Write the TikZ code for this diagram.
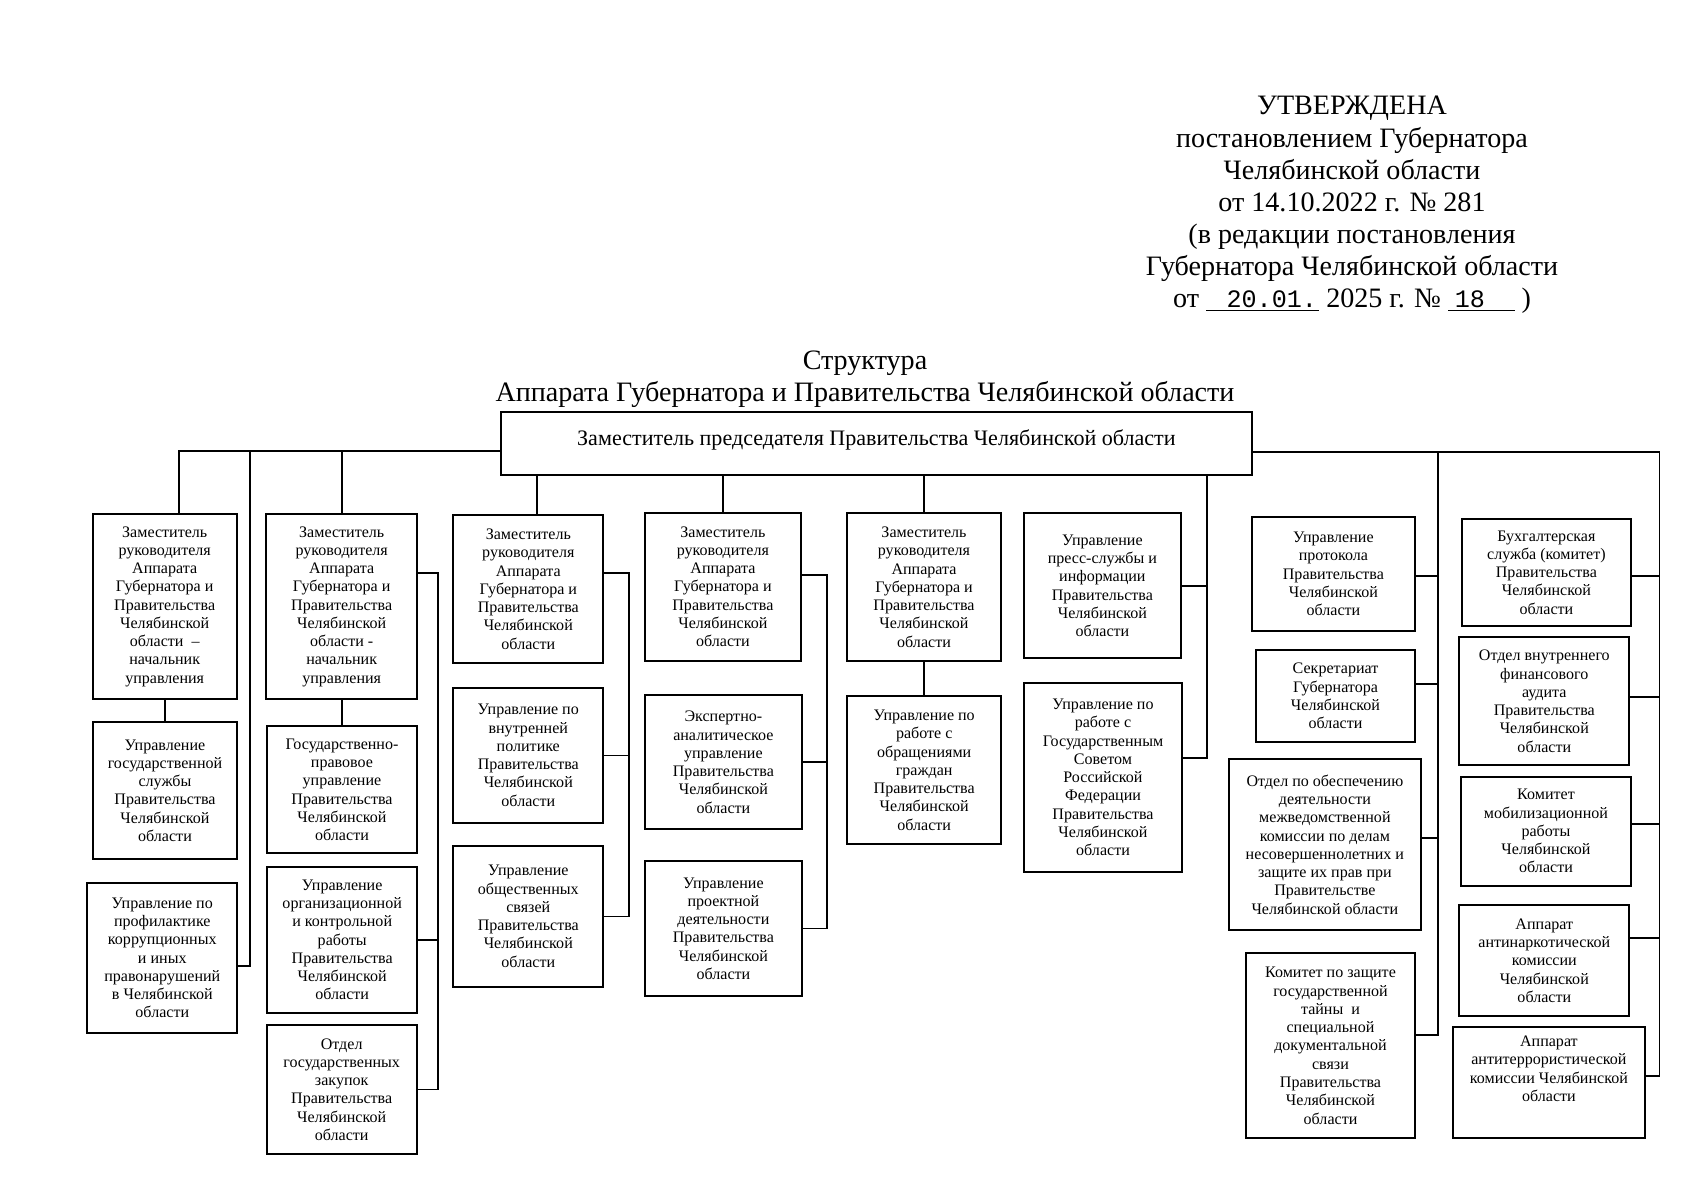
\documentclass[tikz,border=0pt]{standalone}
\usepackage{fontspec}
\setmainfont{Liberation Serif}
\newfontfamily\monofont{Liberation Mono}
\usetikzlibrary{positioning}
\newcommand\pxu{0.17512mm}

\begin{document}
\begin{tikzpicture}[x=\pxu,y=-\pxu,line width=0.9pt,
    unit/.style={draw,inner sep=1pt,align=center,font=\fontsize{8}{9.1}\selectfont},
    sz/.style 2 args={minimum width=#1*\pxu,minimum height=#2*\pxu},
    big/.style={align=center,font=\fontsize{14}{16}\selectfont}]

    \useasboundingbox (0,0) rectangle (1696,1200);

    % header
    \node[big] (appr) at (1352,205) {УТВЕРЖДЕНА\\постановлением Губернатора\\Челябинской области\\от 14.10.2022 г. № 281\\(в редакции постановления\\Губернатора Челябинской области\\от \underline{\hspace{3.6mm}{\monofont\fontsize{12.5}{16}\selectfont 20.01.}\hspace{0.4mm}} 2025 г. № \underline{\hspace{1.2mm}{\monofont\fontsize{12.5}{16}\selectfont 18}\hspace{5.2mm}}\hspace{1.2mm})};
    \node[big] (title) at (865,379) {Структура\\Аппарата Губернатора и Правительства Челябинской области};

    \node[unit,sz={751.3}{63},font=\fontsize{11}{13}\selectfont,text depth=5.8pt] (main) at (876.4,443.5) {Заместитель председателя Правительства Челябинской области};

    % first column
    \node[unit,sz={144}{185}]   (z1)   at (164.7,606.5) {Заместитель\\руководителя\\Аппарата\\Губернатора и\\Правительства\\Челябинской\\области \ –\\начальник\\управления};
    \node[unit,sz={143.4}{137.6}] (ugs) at (165,790.5) {Управление\\государственной\\службы\\Правительства\\Челябинской\\области};
    \node[unit,sz={150}{150.3}] (prof) at (162.3,957.9) {Управление по\\профилактике\\коррупционных\\и иных\\правонарушений\\в Челябинской\\области};

    % second column
    \node[unit,sz={151.3}{185}] (z2)   at (341.7,606.5) {Заместитель\\руководителя\\Аппарата\\Губернатора и\\Правительства\\Челябинской\\области -\\начальник\\управления};
    \node[unit,sz={150.6}{127.3}] (gp)  at (342,789.7) {Государственно-\\правовое\\управление\\Правительства\\Челябинской\\области};
    \node[unit,sz={150.3}{146.6}] (uokr) at (342.2,940) {Управление\\организационной\\и контрольной\\работы\\Правительства\\Челябинской\\области};
    \node[unit,sz={150}{129}]   (ogz)  at (341.7,1089.5) {Отдел\\государственных\\закупок\\Правительства\\Челябинской\\области};

    % third column
    \node[unit,sz={150}{148.3}] (z3)   at (528.3,589.2) {Заместитель\\руководителя\\Аппарата\\Губернатора и\\Правительства\\Челябинской\\области};
    \node[unit,sz={150}{134.7}] (uvp)  at (528.3,755.4) {Управление по\\внутренней\\политике\\Правительства\\Челябинской\\области};
    \node[unit,sz={150}{140.7}] (uos)  at (528.3,916.4) {Управление\\общественных\\связей\\Правительства\\Челябинской\\области};

    % fourth column
    \node[unit,sz={155.7}{148}] (z4)   at (722.9,586.7) {Заместитель\\руководителя\\Аппарата\\Губернатора и\\Правительства\\Челябинской\\области};
    \node[unit,sz={156.7}{134.3}] (eau) at (723.4,762.2) {Экспертно-\\аналитическое\\управление\\Правительства\\Челябинской\\области};
    \node[unit,sz={156.7}{135}] (upd)  at (723.4,928.5) {Управление\\проектной\\деятельности\\Правительства\\Челябинской\\области};

    % fifth column
    \node[unit,sz={153.4}{147.7}] (z5)  at (924,587.2) {Заместитель\\руководителя\\Аппарата\\Губернатора и\\Правительства\\Челябинской\\области};
    \node[unit,sz={153.7}{148.3}] (uog) at (924.2,770.2) {Управление по\\работе с\\обращениями\\граждан\\Правительства\\Челябинской\\области};

    % sixth column
    \node[unit,sz={156.7}{145}] (ups)   at (1102.4,585.8) {Управление\\пресс-службы и\\информации\\Правительства\\Челябинской\\области};
    \node[unit,sz={157.4}{189.6}] (ugsov) at (1103,777.5) {Управление по\\работе с\\Государственным\\Советом\\Российской\\Федерации\\Правительства\\Челябинской\\области};

    % seventh column
    \node[unit,sz={163.3}{114.3}] (upr) at (1333.4,573.9) {Управление\\протокола\\Правительства\\Челябинской\\области};
    \node[unit,sz={159}{91.7}]    (sek) at (1335.5,695.9) {Секретариат\\Губернатора\\Челябинской\\области};
    \node[unit,sz={191.7}{171}]   (omk) at (1324.9,844.5) {Отдел по обеспечению\\деятельности\\межведомственной\\комиссии по делам\\несовершеннолетних и\\защите их прав при\\Правительстве\\Челябинской области};
    \node[unit,sz={169}{185}]     (kzt) at (1330.5,1045.8) {Комитет по защите\\государственной\\тайны \ и\\специальной\\документальной\\связи\\Правительства\\Челябинской\\области};

    % eighth column
    \node[unit,sz={169.3}{106.4}] (buh)  at (1546.4,572.5) {Бухгалтерская\\служба (комитет)\\Правительства\\Челябинской\\области};
    \node[unit,sz={170}{127.7}]   (ovfa) at (1544.3,701.2) {Отдел внутреннего\\финансового\\аудита\\Правительства\\Челябинской\\области};
    \node[unit,sz={170}{109}]     (kmr)  at (1546,831.2) {Комитет\\мобилизационной\\работы\\Челябинской\\области};
    \node[unit,sz={170}{111}]     (aak)  at (1544.3,960.5) {Аппарат\\антинаркотической\\комиссии\\Челябинской\\области};
    \node[unit,sz={192.3}{111}]   (aatk) at (1548.9,1082.8) {Аппарат\\антитеррористической\\комиссии Челябинской\\области\\[5pt]};

    % bus lines
    \coordinate (busL) at (179,450.7);
    \coordinate (busR) at (1659.5,451.7);
    \coordinate (r1) at (250.3,965.7);
    \coordinate (r2) at (438.3,573.3);
    \coordinate (t3) at (536.7,475);
    \coordinate (r3) at (629,573.3);
    \coordinate (r4) at (826.7,575);
    \coordinate (r6) at (1206.7,757.7);
    \coordinate (r7) at (1437.7,1035);
    \coordinate (r8) at (1659.5,1076);

    \draw (main.west |- busL) -- (busL) -- (busL |- z1.north);
    \draw (r1 |- busL) -- (r1) -- (r1 -| prof.east);
    \draw (z2.north |- busL) -- (z2.north);
    \draw (z1.south) -- (z1.south |- ugs.north);
    \draw (z2.south) -- (z2.south |- gp.north);
    \draw (z2.east |- r2) -- (r2) |- (ogz.east);
    \draw (uokr.east) -- (uokr.east -| r2);

    \draw (t3) -- (t3 |- z3.north);
    \draw (z3.east |- r3) -- (r3) |- (uos.east);
    \draw (uvp.east) -- (uvp.east -| r3);

    \draw (main.south -| z4.north) -- (z4.north);
    \draw (z4.east |- r4) -- (r4) |- (upd.east);
    \draw (eau.east) -- (eau.east -| r4);

    \draw (main.south -| z5.north) -- (z5.north);
    \draw (z5.south) -- (z5.south |- uog.north);

    \draw (main.south -| r6) -- (r6) -- (r6 -| ugsov.east);
    \draw (ups.east) -- (ups.east -| r6);

    \draw (main.east |- busR) -- (busR) -- (r8) -- (r8 -| aatk.east);
    \draw (r7 |- busR) -- (r7) -- (r7 -| kzt.east);
    \foreach \n/\yy in {upr/576,sek/684,omk/837.7}
        \draw (\n.east |- 0,\yy) -- (r7 |- 0,\yy);
    \foreach \n/\yy in {buh/575.7,ovfa/696.7,kmr/824.3,aak/938.3}
        \draw (\n.east |- 0,\yy) -- (busR |- 0,\yy);
\end{tikzpicture}
\end{document}
